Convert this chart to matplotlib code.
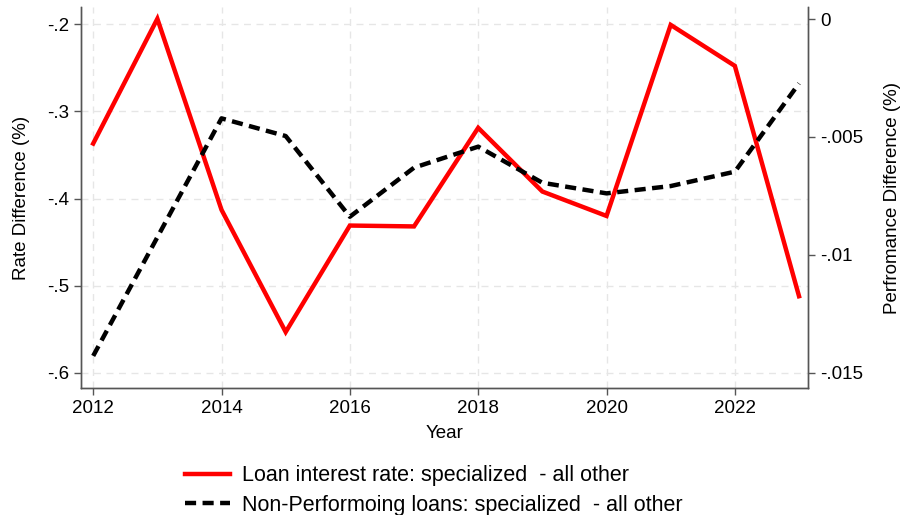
import numpy as np
import matplotlib.pyplot as plt
from matplotlib.lines import Line2D

plt.rcParams['font.family'] = ['Liberation Sans', 'DejaVu Sans']

years = [2012, 2013, 2014, 2015, 2016, 2017, 2018, 2019, 2020, 2021, 2022, 2023]
rate_diff = [-0.337, -0.194, -0.413, -0.553, -0.431, -0.432, -0.319, -0.392, -0.420, -0.201, -0.248, -0.512]
npl_diff = [-0.01428, -0.00925, -0.00421, -0.00496, -0.00838, -0.00630, -0.00541,
            -0.00694, -0.00739, -0.00708, -0.00647, -0.00273]

left_ticks = [-0.2, -0.3, -0.4, -0.5, -0.6]
left_labels = ['-.2', '-.3', '-.4', '-.5', '-.6']
right_ticks = [0, -0.005, -0.01, -0.015]
right_labels = ['0', '-.005', '-.01', '-.015']
x_ticks = [2012, 2014, 2016, 2018, 2020, 2022]

label_rate = 'Loan interest rate: specialized  - all other'
label_npl = 'Non-Performoing loans: specialized  - all other'

fig = plt.figure(figsize=(9.02, 5.15), dpi=100)
ax = fig.add_axes([0.0898, 0.2466, 0.806, 0.7398])
ax2 = ax.twinx()

spine_col = '#555555'
grid_col = '#e6e6e6'

ax.plot(years, rate_diff, color='#ff0000', lw=3.2, solid_joinstyle='miter', zorder=3)
ax2.plot(years, npl_diff, color='black', lw=3.2, dashes=(2.5, 1.45), zorder=3)

ax.set_xlim(2011.81, 2023.14)
ax.set_ylim(-0.6172, -0.1805)
ax2.set_ylim(-0.01564, 0.00051)

ax.set_xticks(x_ticks)
ax.set_xticklabels([str(y) for y in x_ticks])
ax.set_yticks(left_ticks)
ax.set_yticklabels(left_labels)
ax2.set_yticks(right_ticks)
ax2.set_yticklabels(right_labels)

ax.grid(True, color=grid_col, lw=1.0, ls=(0, (5, 4)))
ax.set_axisbelow(True)

for a in (ax, ax2):
    a.spines['top'].set_visible(False)
    for s in ('left', 'right', 'bottom'):
        a.spines[s].set_color(spine_col)
        a.spines[s].set_linewidth(1.0)
    a.tick_params(colors=spine_col, labelcolor='black', labelsize=13.5, length=5, width=1.0)

ax.set_xlabel('Year', fontsize=13.5, labelpad=6)
ax.set_ylabel('Rate Difference (%)', fontsize=13.5, labelpad=12)
ax2.set_ylabel('Perfromance Difference (%)', fontsize=13.5, labelpad=15)

handles = [Line2D([], [], color='#ff0000', lw=3.2),
           Line2D([], [], color='black', lw=3.2, dashes=(2.5, 1.45))]
fig.legend(handles, [label_rate, label_npl], loc='upper left',
           bbox_to_anchor=(0.193, 0.1175), frameon=False, fontsize=15.5,
           handlelength=2.1, handletextpad=0.55, labelspacing=0.4, borderpad=0)

fig.savefig('out.png', dpi=100)
